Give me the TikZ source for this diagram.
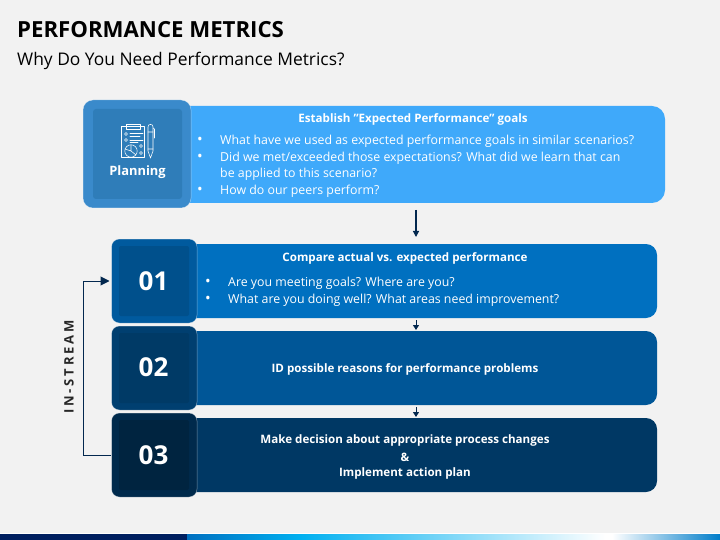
\documentclass[tikz,border=0pt]{standalone}
\usepackage{fontspec}
\setmainfont{Open Sans}
\usetikzlibrary{arrows.meta,positioning,calc}
\definecolor{bgc}{HTML}{F2F2F2}
\definecolor{navy}{HTML}{002060}
\definecolor{linec}{HTML}{03284F}
\definecolor{barP}{HTML}{3FA9FA}
\definecolor{sqP}{HTML}{3A8ACB}
\definecolor{inP}{HTML}{2F7DB9}
\definecolor{barA}{HTML}{0070C0}
\definecolor{sqA}{HTML}{005A9E}
\definecolor{inA}{HTML}{00508C}
\definecolor{barB}{HTML}{005697}
\definecolor{sqB}{HTML}{003F70}
\definecolor{inB}{HTML}{003A66}
\definecolor{barC}{HTML}{003864}
\definecolor{sqC}{HTML}{002A4C}
\definecolor{inC}{HTML}{002440}
\definecolor{sky}{HTML}{00B0F0}
\tikzset{
 x=1pt,y=-1pt,
 bartxt/.style={text=white,font=\fontsize{12.35pt}{14pt}\selectfont,anchor=west,inner sep=0pt,yshift=-1.2pt},
 bulb/.style={text=white,font=\fontsize{15pt}{14pt}\selectfont,anchor=center,inner sep=0pt,yshift=-1pt},
 barhead/.style={text=white,font=\fontsize{11.6pt}{14pt}\selectfont\bfseries,anchor=center,inner sep=0pt,yshift=-1.3pt},
 numtxt/.style={text=white,font=\fontsize{26pt}{28pt}\selectfont\bfseries,inner sep=0pt},
 flow/.style={draw=linec,line width=1.2pt,-{Triangle[length=6pt,width=6pt]}},
 icon/.style={draw=white,line width=0.55pt,line cap=round,line join=round},
 sqedge/.style={draw=white,draw opacity=0.45,line width=0.5pt},
}
\begin{document}
\begin{tikzpicture}
\useasboundingbox (0,0) rectangle (720,540);
\fill[bgc] (0,0) rectangle (720,540);
% title
\node[anchor=west,inner sep=0pt,font=\fontsize{22.2pt}{26pt}\selectfont\bfseries] (title) at (17,29.5) {PERFORMANCE METRICS};
\node[anchor=west,inner sep=0pt,font=\fontsize{17.4pt}{20pt}\selectfont] (subtitle) at (17,60.5) {Why Do You Need Performance Metrics?};
% footer
\fill[white] (0,533) rectangle (720,534);
\fill[navy] (0,534) rectangle (187,540);
\fill[left color=barA,right color=sky] (187,534) rectangle (300,540);
\fill[left color=sky,right color=white] (300,534) rectangle (605,540);
\fill[left color=white,right color=barA!80!sky] (612,534) rectangle (720,540);
\fill[white] (605,534) rectangle (612,540);
% bars
\fill[barP,rounded corners=13pt] (170,106) rectangle (665,203);
\fill[barA,rounded corners=11pt] (170,244) rectangle (657,318);
\fill[barB,rounded corners=11pt] (170,331) rectangle (657,405);
\fill[barC,rounded corners=11pt] (170,418) rectangle (657,492);
\coordinate (barPs) at (416,210);
\coordinate (barAn) at (416,237);
\coordinate (barAs) at (416,320);
\coordinate (barBn) at (416,330);
\coordinate (barBs) at (416,407);
\coordinate (barCn) at (416,417);
% squares
\path[fill=sqP,sqedge,rounded corners=10pt] (83,100) rectangle (191,208);
\fill[inP,rounded corners=3pt] (93,109) rectangle (182,199);
\path[fill=sqA,sqedge,rounded corners=8pt] (111.5,239) rectangle (197,323);
\fill[inA,rounded corners=2pt] (119,246) rectangle (189,316);
\path[fill=sqB,sqedge,rounded corners=8pt] (111.5,326) rectangle (197,410);
\fill[inB,rounded corners=2pt] (119,333) rectangle (189,403);
\path[fill=sqC,sqedge,rounded corners=8pt] (111.5,413) rectangle (197,497);
\fill[inC,rounded corners=2pt] (119,420) rectangle (189,490);
\coordinate (sqAw) at (109.5,281);
\coordinate (sqCw) at (111,455);
% numbers
\node[numtxt] (n1) at (153.5,281.5) {01};
\node[numtxt] (n2) at (153.5,367.5) {02};
\node[numtxt] (n3) at (153.5,455.5) {03};
\node[text=white,inner sep=0pt,font=\fontsize{12.9pt}{15pt}\selectfont\bfseries] (plan) at (137.5,172.5) {Planning};
% icon
\draw[icon] (121,126) rectangle (144.5,157);
\draw[icon] (126,124.5) rectangle (140,129.5);
\draw[icon] (130,133.5)--(143,133.5) (130,136.5)--(140,136.5) (130,140)--(143,140) (130,142.5)--(138,142.5);
\foreach \yy in {134,140}{\draw[icon] (126,\yy) circle (1.5);}
\draw[icon] (131,151) circle (6.2);
\draw[icon] (131,151)--(131,144.8) (131,151)--(125,149) (131,151)--(136,155);
\foreach \yy in {146,153}{\draw[icon] (141,\yy) circle (1.5);}
\draw[icon] (148,127) .. controls (148,123.5) and (153,123.5) .. (153,127) -- (153,151) -- (150.5,158) -- (148,151) -- cycle;
\draw[icon] (148,132)--(153,132) (148,149)--(153,149) (153,128)--(154.5,129)--(154.5,138);
% connectors
\draw[flow] (barPs) -- (barAn);
\draw[flow,line width=1pt,-{Triangle[length=5pt,width=6pt]}] (barAs) -- (barBn);
\draw[flow,line width=1pt,-{Triangle[length=5pt,width=6pt]}] (barBs) -- (barCn);
\draw[flow,line width=1pt,-{Triangle[length=9pt,width=9pt]}] (sqCw) -- (83,455) -- (83,281) -- (sqAw);
\node[rotate=90,inner sep=0pt,font=\fontsize{13pt}{14pt}\selectfont\bfseries,text=black!85] (instream) at (69,367) {I\hspace{2.8pt}N\hspace{2.8pt}-\hspace{2.8pt}S\hspace{2.8pt}T\hspace{2.8pt}R\hspace{2.8pt}E\hspace{2.8pt}A\hspace{2.8pt}M};
% Planning text
\node[barhead] (hP) at (413,118) {Establish ”Expected Performance" goals};
\node[bulb] (b1) at (200,140) {•};
\node[bartxt] (t1) at (220,140) {What have we used as expected performance goals in similar scenarios?};
\node[bulb] (b2) at (200,157) {•};
\node[bartxt] (t2) at (220,157) {Did we met/exceeded those expectations? What did we learn that can};
\node[bartxt] (t3) at (220,173) {be applied to this scenario?};
\node[bulb] (b3) at (200,190) {•};
\node[bartxt] (t4) at (220,190) {How do our peers perform?};
% 01 text
\node[barhead] (hA) at (405,257) {Compare actual vs. expected performance};
\node[bulb] (b4) at (208,282) {•};
\node[bartxt] (t5) at (228,282) {Are you meeting goals? Where are you?};
\node[bulb] (b5) at (208,299) {•};
\node[bartxt] (t6) at (228,299) {What are you doing well? What areas need improvement?};
% 02 text
\node[barhead] (hB) at (405,368) {ID possible reasons for performance problems};
% 03 text
\node[barhead] (hC1) at (405,439) {Make decision about appropriate process changes};
\node[barhead] (hC2) at (405,456) {\&};
\node[barhead] (hC3) at (405,472) {Implement action plan};
\end{tikzpicture}
\end{document}
